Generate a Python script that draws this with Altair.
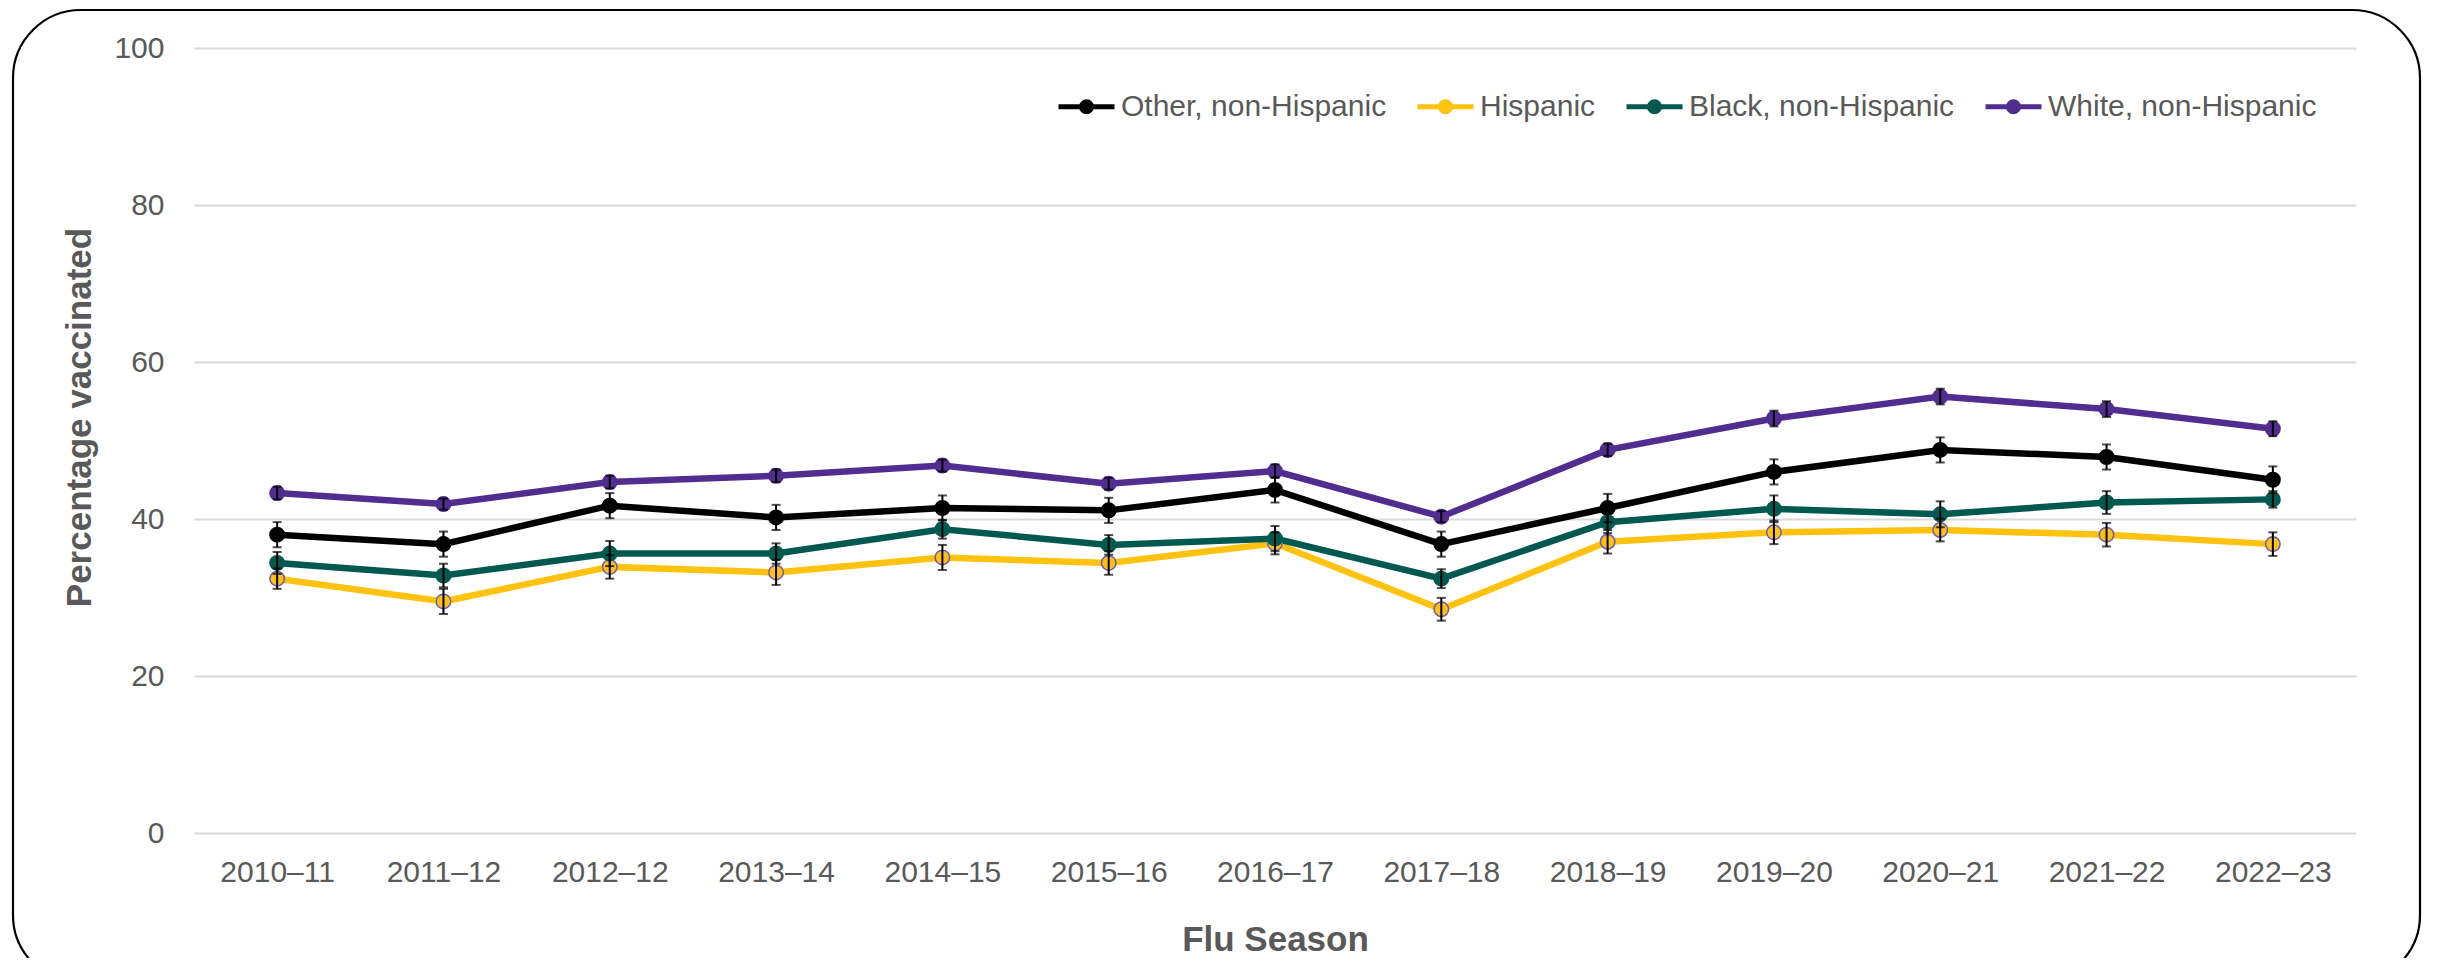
import altair as alt
import pandas as pd

seasons = ["2010–11", "2011–12", "2012–12", "2013–14", "2014–15", "2015–16", "2016–17",
           "2017–18", "2018–19", "2019–20", "2020–21", "2021–22", "2022–23"]

groups = ["Other, non-Hispanic", "Hispanic", "Black, non-Hispanic", "White, non-Hispanic"]
colors = ["#000000", "#FFC20E", "#00594F", "#512D8F"]
edge_colors = ["#000000", "#6E5BB5", "#00594F", "#512D8F"]

other = [38.0, 36.8, 41.7, 40.2, 41.4, 41.1, 43.7, 36.8, 41.4, 46.0, 48.8, 47.9, 45.0]
other_err = [1.6, 1.6, 1.6, 1.6, 1.6, 1.6, 1.6, 1.6, 1.8, 1.6, 1.6, 1.6, 1.7]
hispanic = [32.4, 29.5, 33.9, 33.2, 35.1, 34.4, 36.9, 28.5, 37.1, 38.3, 38.6, 38.0, 36.8]
hispanic_err = [1.3, 1.6, 1.5, 1.6, 1.6, 1.5, 1.4, 1.45, 1.5, 1.5, 1.45, 1.5, 1.5]
black = [34.4, 32.8, 35.6, 35.6, 38.7, 36.7, 37.5, 32.4, 39.6, 41.3, 40.6, 42.1, 42.5]
black_err = [1.4, 1.5, 1.6, 1.3, 1.2, 1.25, 1.6, 1.2, 1.4, 1.7, 1.65, 1.45, 1.05]
white = [43.3, 41.9, 44.7, 45.5, 46.8, 44.5, 46.1, 40.3, 48.8, 52.8, 55.6, 54.0, 51.5]
white_err = [0.8, 0.7, 0.8, 0.8, 0.75, 0.75, 0.85, 0.7, 0.8, 1.0, 1.0, 1.0, 0.95]

y_ticks = [0, 20, 40, 60, 80, 100]

series = {
    "White, non-Hispanic": (white, white_err),
    "Other, non-Hispanic": (other, other_err),
    "Hispanic": (hispanic, hispanic_err),
    "Black, non-Hispanic": (black, black_err),
}
rows = []
for g, (vals, errs) in series.items():
    for s, v, e in zip(seasons, vals, errs):
        rows.append({"season": s, "group": g, "value": v, "lo": v - e, "hi": v + e})
df = pd.DataFrame(rows)

FONT = "Liberation Sans"
GRAY = "#595959"

legend_path = ("M-1,0L1,0"
               "M0.179,0A0.179,0.179,0,1,1,-0.179,0A0.179,0.179,0,1,1,0.179,0"
               "M0.089,0A0.089,0.089,0,1,1,-0.089,0A0.089,0.089,0,1,1,0.089,0")

x_enc = alt.X("season:N", sort=seasons, scale=alt.Scale(type="point", padding=0.5),
              axis=alt.Axis(title="Flu Season", labelAngle=0, ticks=False, domain=False,
                            labelPadding=24, labelFontSize=30, labelFont=FONT, labelColor=GRAY,
                            titleFontSize=35, titleFont=FONT, titleColor=GRAY, titleFontWeight="bold",
                            titleBaseline="alphabetic", titleY=117))
y_enc = alt.Y("value:Q", scale=alt.Scale(domain=[0, 100], nice=False),
              axis=alt.Axis(title="Percentage vaccinated", values=y_ticks, ticks=False, domain=False,
                            labelPadding=30, labelFontSize=30, labelFont=FONT, labelColor=GRAY,
                            gridColor="#D9D9D9", gridWidth=2,
                            titleFontSize=35, titleFont=FONT, titleColor=GRAY, titleFontWeight="bold",
                            titleBaseline="alphabetic", titleX=-104, titleY=369))

base = alt.Chart(df)

lines = base.mark_line(strokeWidth=6.5).encode(
    x=x_enc, y=y_enc,
    color=alt.Color("group:N", scale=alt.Scale(domain=groups, range=colors),
                    legend=alt.Legend(orient="none", legendX=862, legendY=28, direction="horizontal",
                                      title=None, symbolType=legend_path, symbolSize=3136,
                                      symbolStrokeWidth=5, labelFontSize=30, labelFont=FONT,
                                      labelColor=GRAY, labelOffset=4, columnPadding=20, padding=0,
                                      labelLimit=600)),
    detail="group:N",
)

points = base.mark_circle(size=210, opacity=1, strokeWidth=1.5).encode(
    x=alt.X("season:N", sort=seasons),
    y=alt.Y("value:Q"),
    fill=alt.Fill("group:N", scale=alt.Scale(domain=groups, range=colors), legend=None),
    stroke=alt.Stroke("group:N", scale=alt.Scale(domain=groups, range=edge_colors), legend=None),
)

err_rule = base.mark_rule(color="black", strokeWidth=2).encode(
    x=alt.X("season:N", sort=seasons),
    y=alt.Y("lo:Q"),
    y2="hi:Q",
)
cap_lo = base.mark_tick(color="black", size=9, thickness=2, orient="horizontal").encode(
    x=alt.X("season:N", sort=seasons), y=alt.Y("lo:Q"))
cap_hi = base.mark_tick(color="black", size=9, thickness=2, orient="horizontal").encode(
    x=alt.X("season:N", sort=seasons), y=alt.Y("hi:Q"))

frame = alt.Chart(pd.DataFrame({"k": [0]})).mark_rect(
    fillOpacity=0, stroke="black", strokeWidth=2.2, cornerRadius=68
).encode(x=alt.value(-181), x2=alt.value(2226), y=alt.value(-38), y2=alt.value(935))

chart = alt.layer(lines, points, err_rule, cap_lo, cap_hi, frame).properties(
    width=2162, height=785,
    autosize=alt.AutoSizeParams(type="none"),
    padding={"left": 186, "top": 40, "right": 74, "bottom": 125},
).configure_view(stroke=None).configure_axisX(grid=False)

chart.save("out.html", embed_options={"renderer": "svg", "actions": False})
